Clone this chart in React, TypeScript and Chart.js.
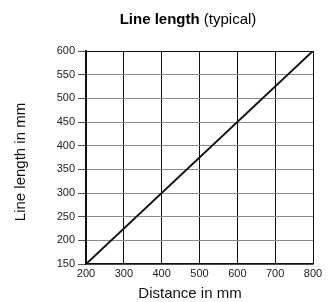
import React, { useEffect, useRef } from "react";
import { Chart, registerables } from "chart.js";

Chart.register(...registerables);

const distances = [200, 800];
const lineLengths = [150, 600];
const xTicks = [200, 300, 400, 500, 600, 700, 800];
const yTicks = [150, 200, 250, 300, 350, 400, 450, 500, 550, 600];
const titleBold = "Line length";
const titleNormal = " (typical)";
const xTitle = "Distance in mm";
const yTitle = "Line length in mm";

const NARROW = "'Liberation Sans Narrow', 'Liberation Sans', Arial, sans-serif";
const SANS = "'Liberation Sans', Arial, sans-serif";

const titlePlugin = {
  id: "mixedTitle",
  afterDraw(chart: any) {
    const ctx = chart.ctx;
    ctx.save();
    ctx.fillStyle = "#000";
    ctx.textBaseline = "middle";
    ctx.font = "bold 15px " + NARROW;
    const w1 = ctx.measureText(titleBold).width;
    ctx.font = "15px " + NARROW;
    const w2 = ctx.measureText(titleNormal).width;
    const cx = 188;
    const x0 = cx - (w1 + w2) / 2;
    ctx.textAlign = "left";
    ctx.font = "bold 15px " + NARROW;
    ctx.fillText(titleBold, x0, 20);
    ctx.font = "15px " + NARROW;
    ctx.fillText(titleNormal, x0 + w1, 20);

    // axis titles
    ctx.fillStyle = "#111";
    ctx.textAlign = "center";
    ctx.font = "15px " + NARROW;
    ctx.fillText(xTitle, 190, 294);
    ctx.translate(21, 162);
    ctx.rotate(-Math.PI / 2);
    ctx.fillText(yTitle, 0, 0);
    ctx.restore();
  },
};

export default function App() {
  const ref = useRef<HTMLCanvasElement>(null);
  useEffect(() => {
    document.body.style.margin = "0";
    const chart = new Chart(ref.current!, {
      type: "scatter",
      data: {
        datasets: [
          {
            data: distances.map((d, i) => ({ x: d, y: lineLengths[i] })),
            showLine: true,
            borderColor: "#111",
            borderWidth: 2,
            pointRadius: 0,
            fill: false,
          },
        ],
      },
      options: {
        animation: false,
        responsive: false,
        layout: { padding: { top: 51, right: 22, left: 0, bottom: 0 } },
        plugins: { legend: { display: false }, tooltip: { enabled: false } },
        scales: {
          x: {
            type: "linear",
            min: 200,
            max: 800,
            afterBuildTicks: (s: any) => {
              s.ticks = xTicks.map((v) => ({ value: v }));
            },
            afterFit: (s: any) => {
              s.height = 38;
            },
            ticks: {
              color: "#222",
              font: { family: SANS, size: 11 },
              padding: 3,
              maxRotation: 0,
            },
            grid: {
              color: "#111",
              lineWidth: 1,
              drawTicks: false,
            },
            border: { color: "#111", width: 1.5 },
          },
          y: {
            type: "linear",
            min: 150,
            max: 600,
            afterBuildTicks: (s: any) => {
              s.ticks = yTicks.map((v) => ({ value: v }));
            },
            afterFit: (s: any) => {
              s.width = 86;
            },
            ticks: {
              color: "#222",
              font: { family: SANS, size: 11 },
              padding: 3,
            },
            grid: {
              color: (c: any) => (c.tick && c.tick.value === 600 ? "#111" : "#8a8a8a"),
              tickColor: "#555",
              lineWidth: 1,
              tickLength: 8,
            },
            border: { color: "#111", width: 1.5 },
          },
        },
      },
      plugins: [titlePlugin],
    } as any);
    return () => chart.destroy();
  }, []);
  return (
    <div style={{ position: "absolute", left: 0, top: 0, width: 335, height: 302 }}>
      <canvas ref={ref} width={335} height={302} />
    </div>
  );
}
